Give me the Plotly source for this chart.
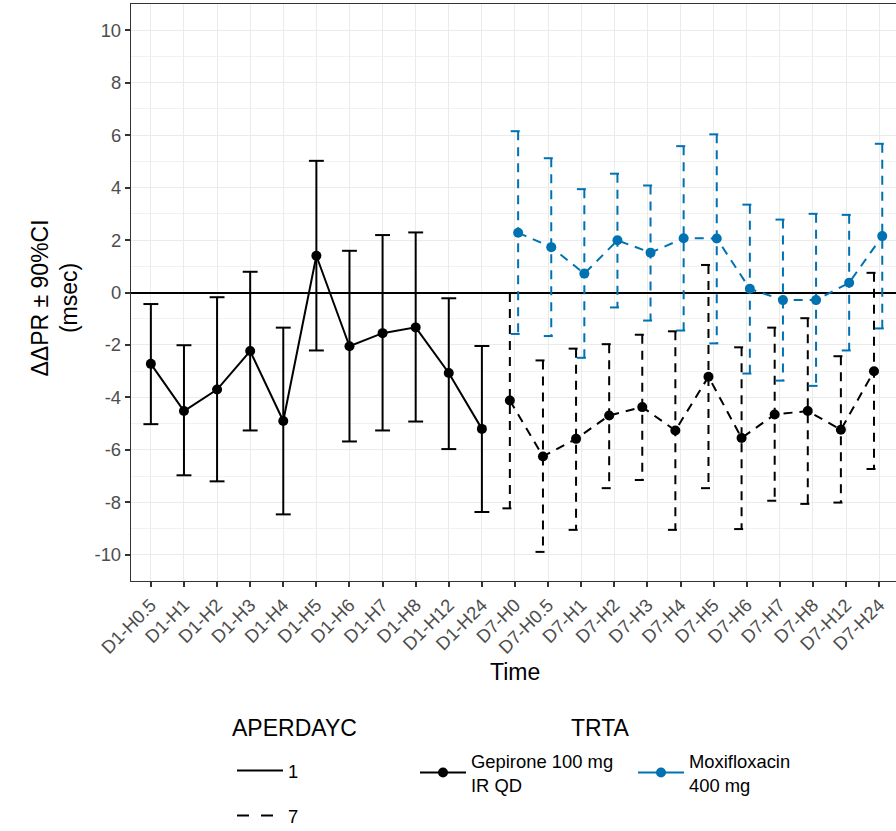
import plotly.graph_objects as go

# ---------------- data ----------------
times = ["D1-H0.5", "D1-H1", "D1-H2", "D1-H3", "D1-H4", "D1-H5", "D1-H6", "D1-H7",
         "D1-H8", "D1-H12", "D1-H24", "D7-H0", "D7-H0.5", "D7-H1", "D7-H2", "D7-H3",
         "D7-H4", "D7-H5", "D7-H6", "D7-H7", "D7-H8", "D7-H12", "D7-H24"]
d1_times = times[:11]
d7_times = times[11:]

gep_d1_mean = [-2.72, -4.52, -3.70, -2.23, -4.90, 1.40, -2.05, -1.55, -1.33, -3.07, -5.20]
gep_d1_lo = [-5.02, -6.97, -7.20, -5.26, -8.46, -2.21, -5.68, -5.26, -4.92, -5.97, -8.37]
gep_d1_hi = [-0.44, -2.01, -0.18, 0.79, -1.34, 5.02, 1.59, 2.19, 2.29, -0.22, -2.04]

gep_d7_mean = [-4.12, -6.25, -5.58, -4.69, -4.37, -5.26, -3.21, -5.55, -4.65, -4.52, -5.23, -3.00]
gep_d7_lo = [-8.23, -9.89, -9.05, -7.46, -7.15, -9.05, -7.46, -9.02, -7.94, -8.06, -8.01, -6.73]
gep_d7_hi = [-0.02, -2.59, -2.14, -1.97, -1.61, -1.48, 1.05, -2.09, -1.34, -0.98, -2.43, 0.75]

moxi_d7_mean = [2.28, 1.73, 0.72, 1.99, 1.52, 2.07, 2.06, 0.14, -0.29, -0.29, 0.37, 2.15]
moxi_d7_lo = [-1.58, -1.66, -2.49, -0.57, -1.07, -1.45, -1.94, -3.09, -3.36, -3.56, -2.21, -1.37]
moxi_d7_hi = [6.15, 5.12, 3.94, 4.53, 4.08, 5.58, 6.03, 3.35, 2.78, 3.00, 2.96, 5.67]

y_ticks = [-10, -8, -6, -4, -2, 0, 2, 4, 6, 8, 10]

# ---------------- styling ----------------
BLACK = "#000000"
BLUE = "#0072B2"
FONT = "Liberation Sans, Arial, sans-serif"
DASH = "9px,7px"
CAP = 0.225          # half cap width (category units)
DODGE_GEP = -0.155
DODGE_MOXI = 0.095

pos = {t: i for i, t in enumerate(times)}


def errorbar_path(xs, lo, hi, hw):
    px, py = [], []
    for x, l, h in zip(xs, lo, hi):
        px += [x - hw, x + hw, None, x, x, None, x - hw, x + hw, None]
        py += [h, h, None, h, l, None, l, l, None]
    return px, py


fig = go.Figure()

groups = [
    (d1_times, gep_d1_mean, gep_d1_lo, gep_d1_hi, BLACK, "solid", 0.0),
    (d7_times, gep_d7_mean, gep_d7_lo, gep_d7_hi, BLACK, DASH, DODGE_GEP),
    (d7_times, moxi_d7_mean, moxi_d7_lo, moxi_d7_hi, BLUE, DASH, DODGE_MOXI),
]

for tl, mean, lo, hi, col, dash, dodge in groups:
    xs = [pos[t] + dodge for t in tl]
    ex, ey = errorbar_path(xs, lo, hi, CAP)
    fig.add_trace(go.Scatter(x=ex, y=ey, mode="lines", showlegend=False, hoverinfo="skip",
                             line=dict(color=col, width=2, dash=dash), connectgaps=False))
    fig.add_trace(go.Scatter(x=xs, y=mean, mode="lines+markers", showlegend=False,
                             line=dict(color=col, width=2, dash=dash),
                             marker=dict(color=col, size=10)))

# legend entries
fig.add_trace(go.Scatter(x=[None], y=[None], mode="lines", name="1", legend="legend",
                         legendgroup="a1", line=dict(color=BLACK, width=2)))
fig.add_trace(go.Scatter(x=[None], y=[None], mode="lines", name="7", legend="legend",
                         legendgroup="a7", line=dict(color=BLACK, width=2, dash="12px,12px")))
fig.add_trace(go.Scatter(x=[None], y=[None], mode="lines+markers", name="Gepirone 100 mg<br>IR QD",
                         legend="legend2", line=dict(color=BLACK, width=2),
                         marker=dict(color=BLACK, size=10)))
fig.add_trace(go.Scatter(x=[None], y=[None], mode="lines+markers", name="Moxifloxacin<br>400 mg",
                         legend="legend2", line=dict(color=BLUE, width=2),
                         marker=dict(color=BLUE, size=10)))

W, H = 896, 831
ML, MR, MT, MB = 131, 0, 4, 250

fig.update_layout(
    width=W, height=H,
    margin=dict(l=ML, r=MR, t=MT, b=MB, autoexpand=False),
    paper_bgcolor="white", plot_bgcolor="white",
    font=dict(family=FONT, color="black"),
    legend=dict(
        font=dict(size=18.4, color="black"),
        orientation="v", xref="container", yref="container",
        x=232 / W, y=1 - 752 / H, xanchor="left", yanchor="top",
        tracegroupgap=18, itemwidth=46, bgcolor="rgba(0,0,0,0)",
    ),
    legend2=dict(
        font=dict(size=18.4, color="black"),
        orientation="h", xref="container", yref="container",
        x=415 / W, y=1 - 742 / H, xanchor="left", yanchor="top",
        itemwidth=46, entrywidth=157, entrywidthmode="pixels",
        bgcolor="rgba(0,0,0,0)",
    ),
)

fig.update_xaxes(
    range=[-0.6, 22.51], tickmode="array", tickvals=list(range(len(times))), ticktext=times,
    tickangle=-45, tickfont=dict(size=18.4, color="#4D4D4D", family=FONT),
    ticks="outside", ticklen=5, tickwidth=1.5, tickcolor="#333333",
    showgrid=True, gridcolor="#EBEBEB", gridwidth=1.4,
    showline=True, linecolor="#333333", linewidth=1.4, mirror=True,
    zeroline=False,
)
fig.update_yaxes(
    range=[-11, 11], tickmode="array", tickvals=y_ticks, ticktext=[str(v) for v in y_ticks],
    tickfont=dict(size=18.4, color="#4D4D4D", family=FONT),
    ticks="outside", ticklen=5, tickwidth=1.5, tickcolor="#333333",
    showgrid=True, gridcolor="#EBEBEB", gridwidth=1.4,
    minor=dict(tickmode="array", tickvals=[-11, -9, -7, -5, -3, -1, 1, 3, 5, 7, 9, 11],
               showgrid=True, gridcolor="#F2F2F2", gridwidth=0.8, ticks=""),
    showline=True, linecolor="#333333", linewidth=1.4, mirror=False,
    zeroline=True, zerolinecolor="black", zerolinewidth=2,
)

fig.add_annotation(text="ΔΔPR ± 90%CI<br>(msec)", xref="paper", yref="paper",
                   x=0, y=0.5, xshift=54 - ML, yshift=-6, xanchor="center", yanchor="middle",
                   textangle=-90, showarrow=False, font=dict(size=23, color="black", family=FONT))
fig.add_annotation(text="Time", xref="paper", yref="paper", x=0.5, xshift=1.5,
                   y=-(672 - 581) / (H - MT - MB), yanchor="middle", xanchor="center",
                   showarrow=False, font=dict(size=23, color="black", family=FONT))
# legend titles
fig.add_annotation(text="APERDAYC", xref="paper", yref="paper",
                   x=(230 - ML) / (W - ML - MR), y=-(728 - 581) / (H - MT - MB),
                   xanchor="left", yanchor="middle", showarrow=False,
                   font=dict(size=23, color="black", family=FONT))
fig.add_annotation(text="TRTA", xref="paper", yref="paper",
                   x=(600 - ML) / (W - ML - MR), y=-(728 - 581) / (H - MT - MB),
                   xanchor="center", yanchor="middle", showarrow=False,
                   font=dict(size=23, color="black", family=FONT))

fig.write_html("out.html", config={"displayModeBar": False},
               post_script="document.body.style.margin='0';")
